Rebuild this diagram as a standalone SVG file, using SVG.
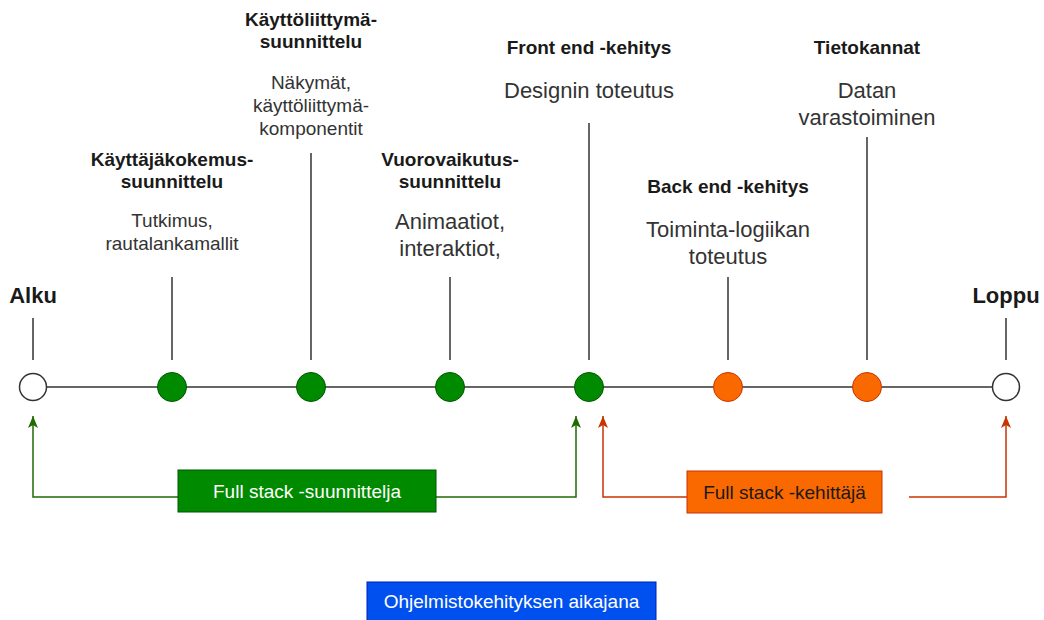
<svg xmlns="http://www.w3.org/2000/svg" width="1044" height="620" viewBox="0 0 1044 620">
  <style>
    text { font-family: "Liberation Sans", Arial, sans-serif; text-anchor: middle; }
    .title { font-size: 19px; font-weight: bold; fill: #1a1a1a; }
    .end { font-size: 22px; font-weight: bold; fill: #1a1a1a; }
    .desc { font-size: 19px; fill: #333333; }
    .desc-l { font-size: 22px; fill: #333333; }
    .stem { stroke: #333333; stroke-width: 1.5; fill: none; }
    .axis { stroke: #333333; stroke-width: 1.5; fill: none; }
    .dot-open { fill: #ffffff; stroke: #333333; stroke-width: 1.5; }
    .dot-green { fill: #008a00; stroke: #005700; stroke-width: 1; }
    .dot-orange { fill: #fa6800; stroke: #c73500; stroke-width: 1; }
    .link-green { stroke: #1f6b00; stroke-width: 1.5; fill: none; }
    .link-orange { stroke: #c73500; stroke-width: 1.5; fill: none; }
    .box-text { font-size: 19px; }
  </style>
  <defs>
    <!-- classic notched arrowhead, tip at refX -->
    <marker id="arrow-green" viewBox="0 0 12 10" refX="12" refY="5" markerWidth="12" markerHeight="10" markerUnits="userSpaceOnUse" orient="auto">
      <path d="M0,0 L12,5 L0,10 L3,5 z" fill="#1f6b00"/>
    </marker>
    <marker id="arrow-orange" viewBox="0 0 12 10" refX="12" refY="5" markerWidth="12" markerHeight="10" markerUnits="userSpaceOnUse" orient="auto">
      <path d="M0,0 L12,5 L0,10 L3,5 z" fill="#c73500"/>
    </marker>
  </defs>

  <!-- timeline axis, stems and role links -->
  <g id="connectors">
    <line class="axis" x1="47" y1="387" x2="992" y2="387"/>
    <line class="stem" x1="33" y1="318" x2="33" y2="360"/>
    <line class="stem" x1="172" y1="277" x2="172" y2="360"/>
    <line class="stem" x1="311" y1="153" x2="311" y2="360"/>
    <line class="stem" x1="450" y1="277" x2="450" y2="360"/>
    <line class="stem" x1="589" y1="123" x2="589" y2="360"/>
    <line class="stem" x1="728" y1="277" x2="728" y2="360"/>
    <line class="stem" x1="867" y1="137" x2="867" y2="360"/>
    <line class="stem" x1="1006" y1="318" x2="1006" y2="360"/>

    <polyline class="link-green" points="178,497 33,497 33,416" marker-end="url(#arrow-green)"/>
    <polyline class="link-green" points="436,497 576,497 576,416" marker-end="url(#arrow-green)"/>
    <polyline class="link-orange" points="687,497 603,497 603,416" marker-end="url(#arrow-orange)"/>
    <polyline class="link-orange" points="909,497 1006,497 1006,416" marker-end="url(#arrow-orange)"/>
  </g>

  <!-- milestones -->
  <g id="alku">
    <circle class="dot-open" cx="33" cy="387" r="13.5"/>
    <text class="end" x="33" y="303">Alku</text>
  </g>
  <g id="ux-design">
    <circle class="dot-green" cx="172" cy="387" r="14.5"/>
    <text class="title" x="172" y="166">Käyttäjäkokemus-</text>
    <text class="title" x="172" y="188">suunnittelu</text>
    <text class="desc" x="172" y="227">Tutkimus,</text>
    <text class="desc" x="172" y="250">rautalankamallit</text>
  </g>
  <g id="ui-design">
    <circle class="dot-green" cx="311" cy="387" r="14.5"/>
    <text class="title" x="311" y="26">Käyttöliittymä-</text>
    <text class="title" x="311" y="48">suunnittelu</text>
    <text class="desc" x="311" y="89">Näkymät,</text>
    <text class="desc" x="311" y="112">käyttöliittymä-</text>
    <text class="desc" x="311" y="135">komponentit</text>
  </g>
  <g id="interaction-design">
    <circle class="dot-green" cx="450" cy="387" r="14.5"/>
    <text class="title" x="450" y="166">Vuorovaikutus-</text>
    <text class="title" x="450" y="188">suunnittelu</text>
    <text class="desc-l" x="450" y="229">Animaatiot,</text>
    <text class="desc-l" x="450" y="256">interaktiot,</text>
  </g>
  <g id="front-end">
    <circle class="dot-green" cx="589" cy="387" r="14.5"/>
    <text class="title" x="589" y="54">Front end -kehitys</text>
    <text class="desc-l" x="589" y="98">Designin toteutus</text>
  </g>
  <g id="back-end">
    <circle class="dot-orange" cx="728" cy="387" r="14.5"/>
    <text class="title" x="728" y="193">Back end -kehitys</text>
    <text class="desc-l" x="728" y="237">Toiminta-logiikan</text>
    <text class="desc-l" x="728" y="264">toteutus</text>
  </g>
  <g id="databases">
    <circle class="dot-orange" cx="867" cy="387" r="14.5"/>
    <text class="title" x="867" y="54">Tietokannat</text>
    <text class="desc-l" x="867" y="98">Datan</text>
    <text class="desc-l" x="867" y="125">varastoiminen</text>
  </g>
  <g id="loppu">
    <circle class="dot-open" cx="1006" cy="387" r="13.5"/>
    <text class="end" x="1006" y="303">Loppu</text>
  </g>

  <!-- role boxes -->
  <g id="full-stack-designer">
    <rect x="178" y="470" width="258" height="42" fill="#008a00" stroke="#005700" stroke-width="1"/>
    <text class="box-text" x="307" y="498" fill="#ffffff">Full stack -suunnittelja</text>
  </g>
  <g id="full-stack-developer">
    <rect x="687" y="471" width="195" height="42" fill="#fa6800" stroke="#c73500" stroke-width="1"/>
    <text class="box-text" x="784.5" y="499" fill="#1a1a1a">Full stack -kehittäjä</text>
  </g>

  <!-- caption -->
  <g id="caption">
    <rect x="367" y="582" width="289" height="40" fill="#0050ef" stroke="#001dbc" stroke-width="1"/>
    <text class="box-text" x="511.5" y="608" fill="#ffffff">Ohjelmistokehityksen aikajana</text>
  </g>
</svg>
